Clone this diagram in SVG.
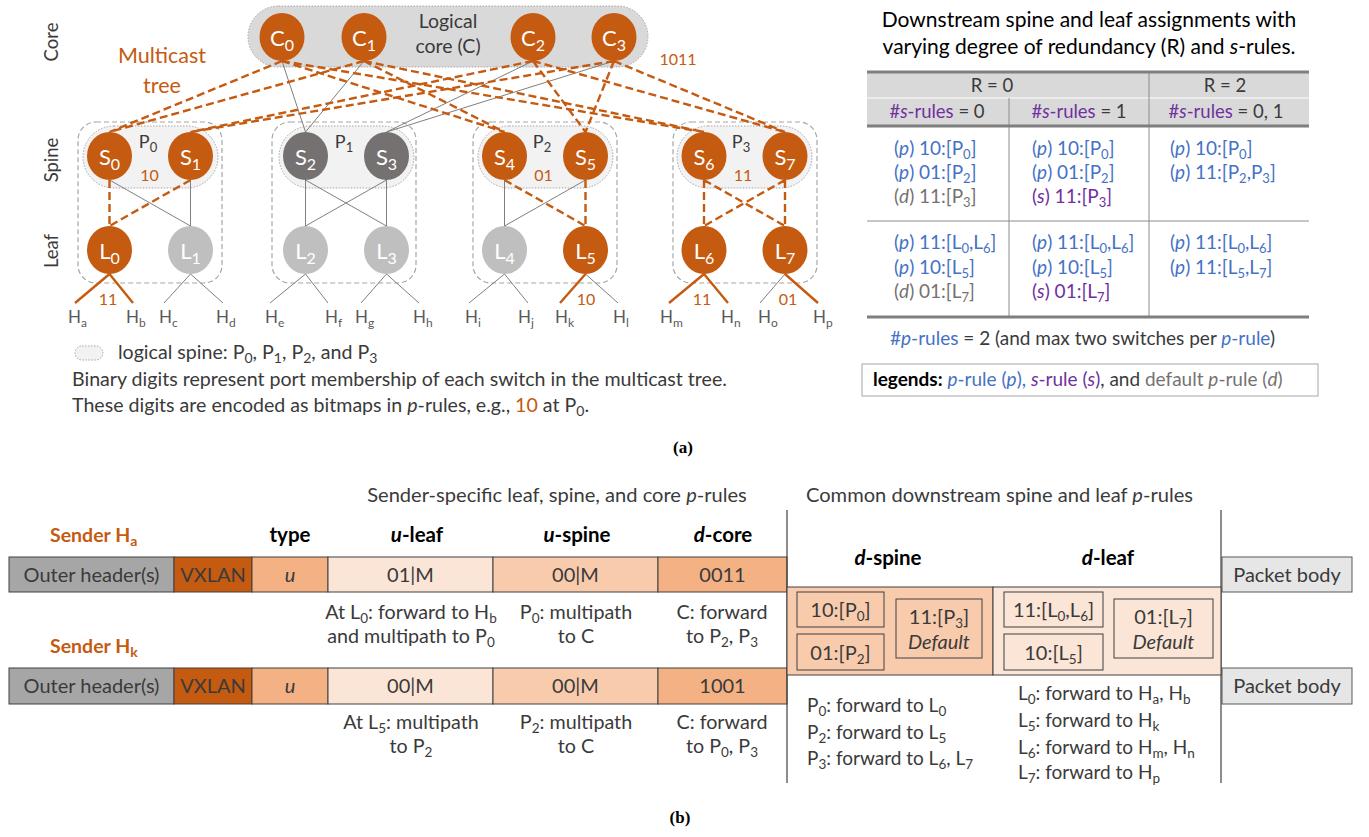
<svg xmlns="http://www.w3.org/2000/svg" width="1369" height="837" viewBox="0 0 1369 837">
<style>
text{font-family:Lato,'Liberation Sans',sans-serif;font-weight:400;fill:#3a3a3a}
.nl{fill:#fff;font-size:22px;text-anchor:middle;font-weight:400}
.ns{font-size:16px}
.o{fill:#c55a11}
.dg{fill:#767171}
.lg{fill:#bfbfbf}
.od{stroke:#c55a11;stroke-width:2.4;stroke-dasharray:8 4;fill:none}
.gl{stroke:#7f7f7f;stroke-width:1;fill:none}
.os{stroke:#c55a11;stroke-width:2.4;fill:none}
.pod{fill:none;stroke:#a6a6a6;stroke-dasharray:5 3;stroke-width:1.2}
.pill{fill:#f2f2f2;stroke:#a6a6a6;stroke-dasharray:1.5 1.5;stroke-width:1}
.ot{fill:#c55a11}
.host{font-size:17px;fill:#595959}
.hs{font-size:12px}
.bit{font-size:16px;fill:#c55a11;text-anchor:middle}
.pl{font-size:18px;text-anchor:middle}
.lc{font-size:19.5px;text-anchor:middle}
.ps{font-size:13px}
.tier{font-size:18.5px;text-anchor:middle}
.leg{font-size:19.6px}
.ls{font-size:14px}
.tt{font-size:21px;font-weight:400;text-anchor:middle;fill:#000}
.th{font-size:18.5px;text-anchor:middle}
.tc{font-size:19px}
.ts{font-size:13px}
.bl{fill:#4472c4}
.pu{fill:#7030a0}
.gy{fill:#767171}
.it{font-style:italic}
.thick{stroke:#7f7f7f;stroke-width:3}
.thin{stroke:#8c8c8c;stroke-width:1}
.cap{font-family:'Liberation Serif',serif;font-weight:700;font-size:17px;text-anchor:middle;fill:#000}
.fld{stroke:#404040;stroke-width:1}
.ft{font-size:20px;text-anchor:middle}
.fs{font-size:13.5px}
.hd{font-size:20.5px;font-weight:700;text-anchor:middle;fill:#000}
.snd{font-size:19.5px;font-weight:700;fill:#c55a11}
.ds{font-size:19.7px;text-anchor:middle}
.lst{font-size:19px}
.box{fill:none;stroke:#404040;stroke-width:1}
.sec{font-size:20.1px}
</style>

<!-- ===== (a) topology ===== -->
<g id="tier-labels">
  <text class="tier" transform="translate(58,42) rotate(-90)">Core</text>
  <text class="tier" transform="translate(58,160) rotate(-90)">Spine</text>
  <text class="tier" transform="translate(58,251) rotate(-90)">Leaf</text>
</g>

<g id="tree-label">
  <text class="ot" font-size="21.5" text-anchor="middle" x="162" y="63">Multicast</text>
  <text class="ot" font-size="21.5" text-anchor="middle" x="162" y="93">tree</text>
</g>

<!-- logical core and pods (background shapes) -->
<g id="logical-core">
  <rect x="248" y="6" width="400" height="61" rx="30.5" fill="#d9d9d9" stroke="#a6a6a6" stroke-dasharray="1.5 1.5"/>
  <text class="lc" x="448" y="28">Logical</text>
  <text class="lc" x="448" y="53">core (C)</text>
  <text class="bit" x="678" y="65">1011</text>
</g>

<g id="pod-P0">
  <rect class="pod" x="78" y="122" width="144" height="161" rx="18"/>
  <rect class="pill" x="83" y="126" width="135" height="62" rx="31"/>
  <text class="pl" x="148" y="148">P<tspan class="ps" dy="4">0</tspan></text>
  <text class="bit" x="149.5" y="181">10</text>
</g>
<g id="pod-P1">
  <rect class="pod" x="272" y="122" width="144" height="161" rx="18"/>
  <rect class="pill" x="279" y="126" width="135" height="62" rx="31"/>
  <text class="pl" x="344" y="148">P<tspan class="ps" dy="4">1</tspan></text>
</g>
<g id="pod-P2">
  <rect class="pod" x="473" y="122" width="144" height="161" rx="18"/>
  <rect class="pill" x="478" y="126" width="135" height="62" rx="31"/>
  <text class="pl" x="542" y="148">P<tspan class="ps" dy="4">2</tspan></text>
  <text class="bit" x="543.5" y="181">01</text>
</g>
<g id="pod-P3">
  <rect class="pod" x="673" y="122" width="144" height="161" rx="18"/>
  <rect class="pill" x="677" y="126" width="135" height="62" rx="31"/>
  <text class="pl" x="741" y="148">P<tspan class="ps" dy="4">3</tspan></text>
  <text class="bit" x="743" y="181">11</text>
</g>

<g id="connectors">
  <!-- core to spine -->
  <path class="gl" d="M282 61L305.5 132M364 61L305.5 132M533 61L386.5 132M614 61L386.5 132"/>
  <path class="od" d="M282 61L109.5 132M282 61L504.5 132M282 61L704 132M364 61L109.5 132M364 61L504.5 132M364 61L704 132"/>
  <path class="od" d="M533 61L190.5 132M533 61L585.5 132M533 61L785 132M614 61L190.5 132M614 61L585.5 132M614 61L785 132"/>
  <!-- spine to leaf -->
  <path class="gl" d="M109.5 180L190.5 226M190.5 180L190.5 226M305.5 180L305.5 226M305.5 180L386.5 226M386.5 180L305.5 226M386.5 180L386.5 226M504.5 180L504.5 226M585.5 180L504.5 226"/>
  <path class="od" d="M109.5 180L109.5 226M190.5 180L109.5 226M504.5 180L585.5 226M585.5 180L585.5 226M704 180L704 226M704 180L785 226M785 180L704 226M785 180L785 226"/>
  <!-- leaf to host -->
  <path class="gl" d="M190.5 274L164 303M190.5 274L223 303M305.5 274L270 303M305.5 274L328 303M386.5 274L361 303M386.5 274L419 303M504.5 274L469 303M504.5 274L528 303M585.5 274L618 303M785 274L760 303"/>
  <path class="os" d="M109.5 274L75 303M109.5 274L133 303M585.5 274L560 303M704 274L669 303M704 274L728 303M785 274L818 303"/>
</g>

<!-- core switches -->
<g id="C0"><ellipse class="o" cx="282" cy="37" rx="22.5" ry="24"/><text class="nl" x="282" y="46">C<tspan class="ns" dy="5">0</tspan></text></g>
<g id="C1"><ellipse class="o" cx="364" cy="37" rx="22.5" ry="24"/><text class="nl" x="364" y="46">C<tspan class="ns" dy="5">1</tspan></text></g>
<g id="C2"><ellipse class="o" cx="533" cy="37" rx="22.5" ry="24"/><text class="nl" x="533" y="46">C<tspan class="ns" dy="5">2</tspan></text></g>
<g id="C3"><ellipse class="o" cx="614" cy="37" rx="22.5" ry="24"/><text class="nl" x="614" y="46">C<tspan class="ns" dy="5">3</tspan></text></g>

<!-- spine switches -->
<g id="S0"><ellipse class="o" cx="109.5" cy="156" rx="22.5" ry="24"/><text class="nl" x="109.5" y="165">S<tspan class="ns" dy="5">0</tspan></text></g>
<g id="S1"><ellipse class="o" cx="190.5" cy="156" rx="22.5" ry="24"/><text class="nl" x="190.5" y="165">S<tspan class="ns" dy="5">1</tspan></text></g>
<g id="S2"><ellipse class="dg" cx="305.5" cy="156" rx="22.5" ry="24"/><text class="nl" x="305.5" y="165">S<tspan class="ns" dy="5">2</tspan></text></g>
<g id="S3"><ellipse class="dg" cx="386.5" cy="156" rx="22.5" ry="24"/><text class="nl" x="386.5" y="165">S<tspan class="ns" dy="5">3</tspan></text></g>
<g id="S4"><ellipse class="o" cx="504.5" cy="156" rx="22.5" ry="24"/><text class="nl" x="504.5" y="165">S<tspan class="ns" dy="5">4</tspan></text></g>
<g id="S5"><ellipse class="o" cx="585.5" cy="156" rx="22.5" ry="24"/><text class="nl" x="585.5" y="165">S<tspan class="ns" dy="5">5</tspan></text></g>
<g id="S6"><ellipse class="o" cx="704" cy="156" rx="22.5" ry="24"/><text class="nl" x="704" y="165">S<tspan class="ns" dy="5">6</tspan></text></g>
<g id="S7"><ellipse class="o" cx="785" cy="156" rx="22.5" ry="24"/><text class="nl" x="785" y="165">S<tspan class="ns" dy="5">7</tspan></text></g>

<!-- leaf switches -->
<g id="L0"><ellipse class="o" cx="109.5" cy="250" rx="22.5" ry="24"/><text class="nl" x="109.5" y="259">L<tspan class="ns" dy="5">0</tspan></text></g>
<g id="L1"><ellipse class="lg" cx="190.5" cy="250" rx="22.5" ry="24"/><text class="nl" x="190.5" y="259">L<tspan class="ns" dy="5">1</tspan></text></g>
<g id="L2"><ellipse class="lg" cx="305.5" cy="250" rx="22.5" ry="24"/><text class="nl" x="305.5" y="259">L<tspan class="ns" dy="5">2</tspan></text></g>
<g id="L3"><ellipse class="lg" cx="386.5" cy="250" rx="22.5" ry="24"/><text class="nl" x="386.5" y="259">L<tspan class="ns" dy="5">3</tspan></text></g>
<g id="L4"><ellipse class="lg" cx="504.5" cy="250" rx="22.5" ry="24"/><text class="nl" x="504.5" y="259">L<tspan class="ns" dy="5">4</tspan></text></g>
<g id="L5"><ellipse class="o" cx="585.5" cy="250" rx="22.5" ry="24"/><text class="nl" x="585.5" y="259">L<tspan class="ns" dy="5">5</tspan></text></g>
<g id="L6"><ellipse class="o" cx="704" cy="250" rx="22.5" ry="24"/><text class="nl" x="704" y="259">L<tspan class="ns" dy="5">6</tspan></text></g>
<g id="L7"><ellipse class="o" cx="785" cy="250" rx="22.5" ry="24"/><text class="nl" x="785" y="259">L<tspan class="ns" dy="5">7</tspan></text></g>

<!-- leaf port bitmaps -->
<g id="leaf-bitmaps">
  <text class="bit" x="108" y="305">11</text>
  <text class="bit" x="586" y="305">10</text>
  <text class="bit" x="702" y="305">11</text>
  <text class="bit" x="788" y="305">01</text>
</g>

<!-- hosts -->
<g id="hosts">
  <text class="host ot" x="68" y="323">H<tspan class="hs" dy="4">a</tspan></text>
  <text class="host ot" x="126" y="323">H<tspan class="hs" dy="4">b</tspan></text>
  <text class="host" x="159" y="323">H<tspan class="hs" dy="4">c</tspan></text>
  <text class="host" x="216" y="323">H<tspan class="hs" dy="4">d</tspan></text>
  <text class="host" x="265" y="323">H<tspan class="hs" dy="4">e</tspan></text>
  <text class="host" x="325" y="323">H<tspan class="hs" dy="4">f</tspan></text>
  <text class="host" x="355" y="323">H<tspan class="hs" dy="4">g</tspan></text>
  <text class="host" x="413" y="323">H<tspan class="hs" dy="4">h</tspan></text>
  <text class="host" x="465" y="323">H<tspan class="hs" dy="4">i</tspan></text>
  <text class="host" x="518" y="323">H<tspan class="hs" dy="4">j</tspan></text>
  <text class="host ot" x="555" y="323">H<tspan class="hs" dy="4">k</tspan></text>
  <text class="host" x="613" y="323">H<tspan class="hs" dy="4">l</tspan></text>
  <text class="host ot" x="660" y="323">H<tspan class="hs" dy="4">m</tspan></text>
  <text class="host ot" x="721" y="323">H<tspan class="hs" dy="4">n</tspan></text>
  <text class="host" x="758" y="323">H<tspan class="hs" dy="4">o</tspan></text>
  <text class="host ot" x="813" y="323">H<tspan class="hs" dy="4">p</tspan></text>
</g>

<!-- notes under the topology -->
<g id="notes">
  <rect class="pill" x="75" y="346" width="28" height="14" rx="7"/>
  <text class="leg" x="118" y="359">logical spine: P<tspan class="ls" dy="4">0</tspan><tspan dy="-4">, P</tspan><tspan class="ls" dy="4">1</tspan><tspan dy="-4">, P</tspan><tspan class="ls" dy="4">2</tspan><tspan dy="-4">, and P</tspan><tspan class="ls" dy="4">3</tspan></text>
  <text class="leg" x="72" y="386">Binary digits represent port membership of each switch in the multicast tree.</text>
  <text class="leg" x="72" y="412">These digits are encoded as bitmaps in <tspan class="it">p</tspan>-rules, e.g., <tspan class="ot">10</tspan> at P<tspan class="ls" dy="4">0</tspan><tspan dy="-4">.</tspan></text>
</g>

<!-- ===== assignment table ===== -->
<g id="table">
  <text class="tt" x="1089" y="27">Downstream spine and leaf assignments with</text>
  <text class="tt" x="1089" y="54">varying degree of redundancy (R) and <tspan class="it">s</tspan>-rules.</text>
  <rect x="867" y="72" width="442" height="54" fill="#d9d9d9"/>
  <line x1="867" y1="98" x2="1309" y2="98" stroke="#f2f2f2" stroke-width="1.5"/>
  <line class="thin" x1="1149" y1="72" x2="1149" y2="317"/>
  <line class="thin" x1="1009" y1="98" x2="1009" y2="317"/>
  <line class="thin" x1="867" y1="221" x2="1309" y2="221" stroke="#a6a6a6"/>
  <line class="thick" x1="867" y1="72" x2="1309" y2="72"/>
  <line class="thick" x1="867" y1="126" x2="1309" y2="126"/>
  <line class="thick" x1="867" y1="317" x2="1309" y2="317"/>
  <text class="th" x="992" y="92">R = 0</text>
  <text class="th" x="1225" y="92">R = 2</text>
  <text class="th" x="937" y="118"><tspan class="pu">#<tspan class="it">s</tspan>-rules</tspan> = 0</text>
  <text class="th" x="1079" y="118"><tspan class="pu">#<tspan class="it">s</tspan>-rules</tspan> = 1</text>
  <text class="th" x="1226" y="118"><tspan class="pu">#<tspan class="it">s</tspan>-rules</tspan> = 0, 1</text>

  <!-- spine assignments -->
  <text class="tc bl" x="894" y="155">(<tspan class="it">p</tspan>) 10:[P<tspan class="ts" dy="4">0</tspan><tspan dy="-4">]</tspan></text>
  <text class="tc bl" x="894" y="179">(<tspan class="it">p</tspan>) 01:[P<tspan class="ts" dy="4">2</tspan><tspan dy="-4">]</tspan></text>
  <text class="tc gy" x="894" y="203">(<tspan class="it">d</tspan>) 11:[P<tspan class="ts" dy="4">3</tspan><tspan dy="-4">]</tspan></text>
  <text class="tc bl" x="1032" y="155">(<tspan class="it">p</tspan>) 10:[P<tspan class="ts" dy="4">0</tspan><tspan dy="-4">]</tspan></text>
  <text class="tc bl" x="1032" y="179">(<tspan class="it">p</tspan>) 01:[P<tspan class="ts" dy="4">2</tspan><tspan dy="-4">]</tspan></text>
  <text class="tc pu" x="1032" y="203">(<tspan class="it">s</tspan>) 11:[P<tspan class="ts" dy="4">3</tspan><tspan dy="-4">]</tspan></text>
  <text class="tc bl" x="1170" y="155">(<tspan class="it">p</tspan>) 10:[P<tspan class="ts" dy="4">0</tspan><tspan dy="-4">]</tspan></text>
  <text class="tc bl" x="1170" y="179">(<tspan class="it">p</tspan>) 11:[P<tspan class="ts" dy="4">2</tspan><tspan dy="-4">,P</tspan><tspan class="ts" dy="4">3</tspan><tspan dy="-4">]</tspan></text>

  <!-- leaf assignments -->
  <text class="tc bl" x="894" y="249">(<tspan class="it">p</tspan>) 11:[L<tspan class="ts" dy="4">0</tspan><tspan dy="-4">,L</tspan><tspan class="ts" dy="4">6</tspan><tspan dy="-4">]</tspan></text>
  <text class="tc bl" x="894" y="274">(<tspan class="it">p</tspan>) 10:[L<tspan class="ts" dy="4">5</tspan><tspan dy="-4">]</tspan></text>
  <text class="tc gy" x="894" y="298">(<tspan class="it">d</tspan>) 01:[L<tspan class="ts" dy="4">7</tspan><tspan dy="-4">]</tspan></text>
  <text class="tc bl" x="1032" y="249">(<tspan class="it">p</tspan>) 11:[L<tspan class="ts" dy="4">0</tspan><tspan dy="-4">,L</tspan><tspan class="ts" dy="4">6</tspan><tspan dy="-4">]</tspan></text>
  <text class="tc bl" x="1032" y="274">(<tspan class="it">p</tspan>) 10:[L<tspan class="ts" dy="4">5</tspan><tspan dy="-4">]</tspan></text>
  <text class="tc pu" x="1032" y="298">(<tspan class="it">s</tspan>) 01:[L<tspan class="ts" dy="4">7</tspan><tspan dy="-4">]</tspan></text>
  <text class="tc bl" x="1170" y="249">(<tspan class="it">p</tspan>) 11:[L<tspan class="ts" dy="4">0</tspan><tspan dy="-4">,L</tspan><tspan class="ts" dy="4">6</tspan><tspan dy="-4">]</tspan></text>
  <text class="tc bl" x="1170" y="274">(<tspan class="it">p</tspan>) 11:[L<tspan class="ts" dy="4">5</tspan><tspan dy="-4">,L</tspan><tspan class="ts" dy="4">7</tspan><tspan dy="-4">]</tspan></text>

  <text class="tc" x="890" y="345" font-size="19.3px"><tspan class="bl">#<tspan class="it">p</tspan>-rules</tspan> = 2 (and max two switches per <tspan class="bl"><tspan class="it">p</tspan>-rule</tspan>)</text>
  <rect x="862" y="364" width="456" height="32" fill="#fff" stroke="#a6a6a6" stroke-width="1"/>
  <text class="tc" x="873" y="386" font-size="18.7px"><tspan font-weight="700" fill="#000">legends:</tspan> <tspan class="bl"><tspan class="it">p</tspan>-rule (<tspan class="it">p</tspan>),</tspan> <tspan class="pu"><tspan class="it">s</tspan>-rule (<tspan class="it">s</tspan>)</tspan>, and <tspan class="gy">default <tspan class="it">p</tspan>-rule (<tspan class="it">d</tspan>)</tspan></text>
</g>

<text class="cap" x="683" y="453">(a)</text>

<!-- ===== (b) packet format ===== -->
<g id="section-titles">
  <text class="sec" x="557" y="502" text-anchor="middle">Sender-specific leaf, spine, and core <tspan class="it">p</tspan>-rules</text>
  <text class="sec" x="806" y="502">Common downstream spine and leaf <tspan class="it">p</tspan>-rules</text>
</g>

<g id="field-headers">
  <text class="snd" x="50" y="542">Sender H<tspan font-size="14px" dy="4">a</tspan></text>
  <text class="snd" x="50" y="653">Sender H<tspan font-size="14px" dy="4">k</tspan></text>
  <text class="hd" x="290" y="542">type</text>
  <text class="hd" x="417" y="542"><tspan class="it">u</tspan>-leaf</text>
  <text class="hd" x="577" y="542"><tspan class="it">u</tspan>-spine</text>
  <text class="hd" x="723" y="542"><tspan class="it">d</tspan>-core</text>
  <text class="hd" x="888" y="565"><tspan class="it">d</tspan>-spine</text>
  <text class="hd" x="1108" y="565"><tspan class="it">d</tspan>-leaf</text>
</g>

<!-- header for sender Ha -->
<g id="pkt-Ha">
  <rect class="fld" x="9" y="557" width="165" height="35" fill="#a6a6a6"/>
  <text class="ft" x="91.5" y="582" fill="#fff">Outer header(s)</text>
  <rect class="fld" x="174" y="557" width="78" height="35" fill="#c55a11"/>
  <text class="ft" x="213" y="582" fill="#fff">VXLAN</text>
  <rect class="fld" x="252" y="557" width="76" height="35" fill="#f4b183"/>
  <text class="ft it" x="290" y="582">u</text>
  <rect class="fld" x="328" y="557" width="165" height="35" fill="#fbe5d6"/>
  <text class="ft" x="410.5" y="582">01|M</text>
  <rect class="fld" x="493" y="557" width="165" height="35" fill="#f8cbad"/>
  <text class="ft" x="575.5" y="582">00|M</text>
  <rect class="fld" x="658" y="557" width="129" height="35" fill="#f4b183"/>
  <text class="ft" x="722.5" y="582">0011</text>
  <rect x="1222" y="557" width="130" height="35" fill="#e7e6e6" stroke="#595959"/>
  <text class="ft" x="1287" y="582">Packet body</text>
</g>

<g id="notes-Ha">
  <text class="ds" x="411" y="619">At L<tspan class="fs" dy="4">0</tspan><tspan dy="-4">: forward to H</tspan><tspan class="fs" dy="4">b</tspan></text>
  <text class="ds" x="411" y="643">and multipath to P<tspan class="fs" dy="4">0</tspan></text>
  <text class="ds" x="576" y="619">P<tspan class="fs" dy="4">0</tspan><tspan dy="-4">: multipath</tspan></text>
  <text class="ds" x="576" y="643">to C</text>
  <text class="ds" x="722" y="619">C: forward</text>
  <text class="ds" x="722" y="643">to P<tspan class="fs" dy="4">2</tspan><tspan dy="-4">, P</tspan><tspan class="fs" dy="4">3</tspan></text>
</g>

<!-- header for sender Hk -->
<g id="pkt-Hk">
  <rect class="fld" x="9" y="668" width="165" height="36" fill="#a6a6a6"/>
  <text class="ft" x="91.5" y="693" fill="#fff">Outer header(s)</text>
  <rect class="fld" x="174" y="668" width="78" height="36" fill="#c55a11"/>
  <text class="ft" x="213" y="693" fill="#fff">VXLAN</text>
  <rect class="fld" x="252" y="668" width="76" height="36" fill="#f4b183"/>
  <text class="ft it" x="290" y="693">u</text>
  <rect class="fld" x="328" y="668" width="165" height="36" fill="#fbe5d6"/>
  <text class="ft" x="410.5" y="693">00|M</text>
  <rect class="fld" x="493" y="668" width="165" height="36" fill="#f8cbad"/>
  <text class="ft" x="575.5" y="693">00|M</text>
  <rect class="fld" x="658" y="668" width="129" height="36" fill="#f4b183"/>
  <text class="ft" x="722.5" y="693">1001</text>
  <rect x="1222" y="668" width="130" height="36" fill="#e7e6e6" stroke="#595959"/>
  <text class="ft" x="1287" y="693">Packet body</text>
</g>

<g id="notes-Hk">
  <text class="ds" x="411" y="729">At L<tspan class="fs" dy="4">5</tspan><tspan dy="-4">: multipath</tspan></text>
  <text class="ds" x="411" y="753">to P<tspan class="fs" dy="4">2</tspan></text>
  <text class="ds" x="576" y="729">P<tspan class="fs" dy="4">2</tspan><tspan dy="-4">: multipath</tspan></text>
  <text class="ds" x="576" y="753">to C</text>
  <text class="ds" x="722" y="729">C: forward</text>
  <text class="ds" x="722" y="753">to P<tspan class="fs" dy="4">0</tspan><tspan dy="-4">, P</tspan><tspan class="fs" dy="4">3</tspan></text>
</g>

<!-- shared downstream rules -->
<g id="common-rules">
  <line x1="787" y1="510" x2="787" y2="783" stroke="#404040" stroke-width="1.2"/>
  <line x1="1221" y1="510" x2="1221" y2="783" stroke="#404040" stroke-width="1.2"/>
  <rect class="fld" x="787" y="587" width="206" height="88" fill="#f8cbad"/>
  <rect class="fld" x="993" y="587" width="228" height="88" fill="#fbe5d6"/>
</g>

<g id="d-spine-rules">
  <rect class="box" x="797" y="592" width="87" height="35"/>
  <text class="ft" x="840.5" y="617">10:[P<tspan class="fs" dy="4">0</tspan><tspan dy="-4">]</tspan></text>
  <rect class="box" x="797" y="634" width="87" height="36"/>
  <text class="ft" x="840.5" y="660">01:[P<tspan class="fs" dy="4">2</tspan><tspan dy="-4">]</tspan></text>
  <rect class="box" x="896" y="599" width="86" height="59"/>
  <text class="ft" x="939" y="624">11:[P<tspan class="fs" dy="4">3</tspan><tspan dy="-4">]</tspan></text>
  <text class="ft it" x="939" y="649" font-size="19px">Default</text>
</g>

<g id="d-leaf-rules">
  <rect class="box" x="1004" y="592" width="99" height="35"/>
  <text class="ft" x="1053.5" y="617">11:[L<tspan class="fs" dy="4">0</tspan><tspan dy="-4">,L</tspan><tspan class="fs" dy="4">6</tspan><tspan dy="-4">]</tspan></text>
  <rect class="box" x="1004" y="634" width="99" height="36"/>
  <text class="ft" x="1053.5" y="660">10:[L<tspan class="fs" dy="4">5</tspan><tspan dy="-4">]</tspan></text>
  <rect class="box" x="1114" y="599" width="99" height="59"/>
  <text class="ft" x="1163.5" y="624">01:[L<tspan class="fs" dy="4">7</tspan><tspan dy="-4">]</tspan></text>
  <text class="ft it" x="1163.5" y="649" font-size="19px">Default</text>
</g>

<g id="d-notes">
  <text class="lst" x="807" y="712">P<tspan class="fs" dy="4">0</tspan><tspan dy="-4">: forward to L</tspan><tspan class="fs" dy="4">0</tspan></text>
  <text class="lst" x="807" y="739">P<tspan class="fs" dy="4">2</tspan><tspan dy="-4">: forward to L</tspan><tspan class="fs" dy="4">5</tspan></text>
  <text class="lst" x="807" y="765">P<tspan class="fs" dy="4">3</tspan><tspan dy="-4">: forward to L</tspan><tspan class="fs" dy="4">6</tspan><tspan dy="-4">, L</tspan><tspan class="fs" dy="4">7</tspan></text>
  <text class="lst" x="1018" y="700">L<tspan class="fs" dy="4">0</tspan><tspan dy="-4">: forward to H</tspan><tspan class="fs" dy="4">a</tspan><tspan dy="-4">, H</tspan><tspan class="fs" dy="4">b</tspan></text>
  <text class="lst" x="1018" y="727">L<tspan class="fs" dy="4">5</tspan><tspan dy="-4">: forward to H</tspan><tspan class="fs" dy="4">k</tspan></text>
  <text class="lst" x="1018" y="754">L<tspan class="fs" dy="4">6</tspan><tspan dy="-4">: forward to H</tspan><tspan class="fs" dy="4">m</tspan><tspan dy="-4">, H</tspan><tspan class="fs" dy="4">n</tspan></text>
  <text class="lst" x="1018" y="779">L<tspan class="fs" dy="4">7</tspan><tspan dy="-4">: forward to H</tspan><tspan class="fs" dy="4">p</tspan></text>
</g>

<text class="cap" x="680" y="823">(b)</text>
</svg>
